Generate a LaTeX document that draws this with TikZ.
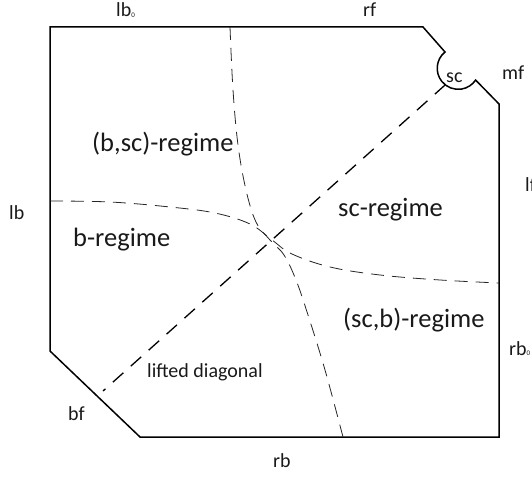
\documentclass[tikz,border=0pt]{standalone}
\usepackage{fontspec}
\setmainfont{Carlito}
\begin{document}
\begin{tikzpicture}[x=1pt,y=1pt,
  outline/.style={draw=black,line width=1.5pt,line join=miter},
  diag/.style={draw=black,line width=1.3pt,dash pattern=on 14pt off 10pt},
  border/.style={draw=black!85,line width=0.8pt,dash pattern=on 13pt off 8pt},
  lbl/.style={inner sep=0pt,anchor=base west,font=\fontsize{20}{24}\selectfont,text=black!90},
  reg/.style={inner sep=0pt,anchor=base west,font=\fontsize{26.5}{30}\selectfont,text=black!90}]
\useasboundingbox (0,0) rectangle (532,-478);
\newcommand{\zsub}{\raisebox{-0.5pt}{\fontsize{7}{7}\selectfont 0}}
% outline
\coordinate (tl) at (50,-27);
\coordinate (tr1) at (423,-27);
\coordinate (tr2) at (445,-52);
\coordinate (tr3) at (499,-104);
\coordinate (brc) at (499,-437);
\coordinate (bl1) at (140,-437);
\coordinate (bl2) at (50,-351);
\draw[outline] (tl) -- (tr1) -- (tr2) arc[start angle=129,end angle=326,radius=21] -- (tr3) -- (brc) -- (bl1) -- (bl2) -- cycle;
% lifted diagonal
\coordinate (dA) at (445.3,-84.8);
\coordinate (dB) at (103,-391);
\draw[diag] (dA) -- (dB);
% regime borders
\draw[border] plot[smooth,tension=0.6] coordinates {(230,-27) (233,-90) (238,-145) (246,-190) (256,-222) (270,-240) (284,-255) (296,-280) (308,-315) (325,-370) (343,-437)};
\draw[border] plot[smooth,tension=0.6] coordinates {(50,-201) (110,-202) (170,-207) (215,-213) (250,-224) (272,-240) (292,-254) (330,-267) (380,-275) (440,-280) (499,-283)};
% labels
\node[lbl] (llb0) at (116,-17) {lb\zsub};
\node[lbl] (lrf) at (363,-17) {rf};
\node[lbl] (lsc) at (446,-83) {sc};
\node[lbl] (lmf) at (502,-80) {mf};
\node[lbl] (llf) at (525,-192) {lf};
\node[lbl] (llb) at (9,-219) {lb};
\node[lbl] (lrb0) at (509,-355) {rb\zsub};
\node[lbl] (lbf) at (68,-420) {bf};
\node[lbl] (lrb) at (273,-467) {rb};
\node[lbl] (lld) at (147,-377) {lifted diagonal};
\node[reg] (rbsc) at (92,-152) {(b,sc)-regime};
\node[reg] (rb) at (73,-247) {b-regime};
\node[reg] (rsc) at (338,-217) {sc-regime};
\node[reg] (rscb) at (343,-327) {(sc,b)-regime};
\end{tikzpicture}
\end{document}
